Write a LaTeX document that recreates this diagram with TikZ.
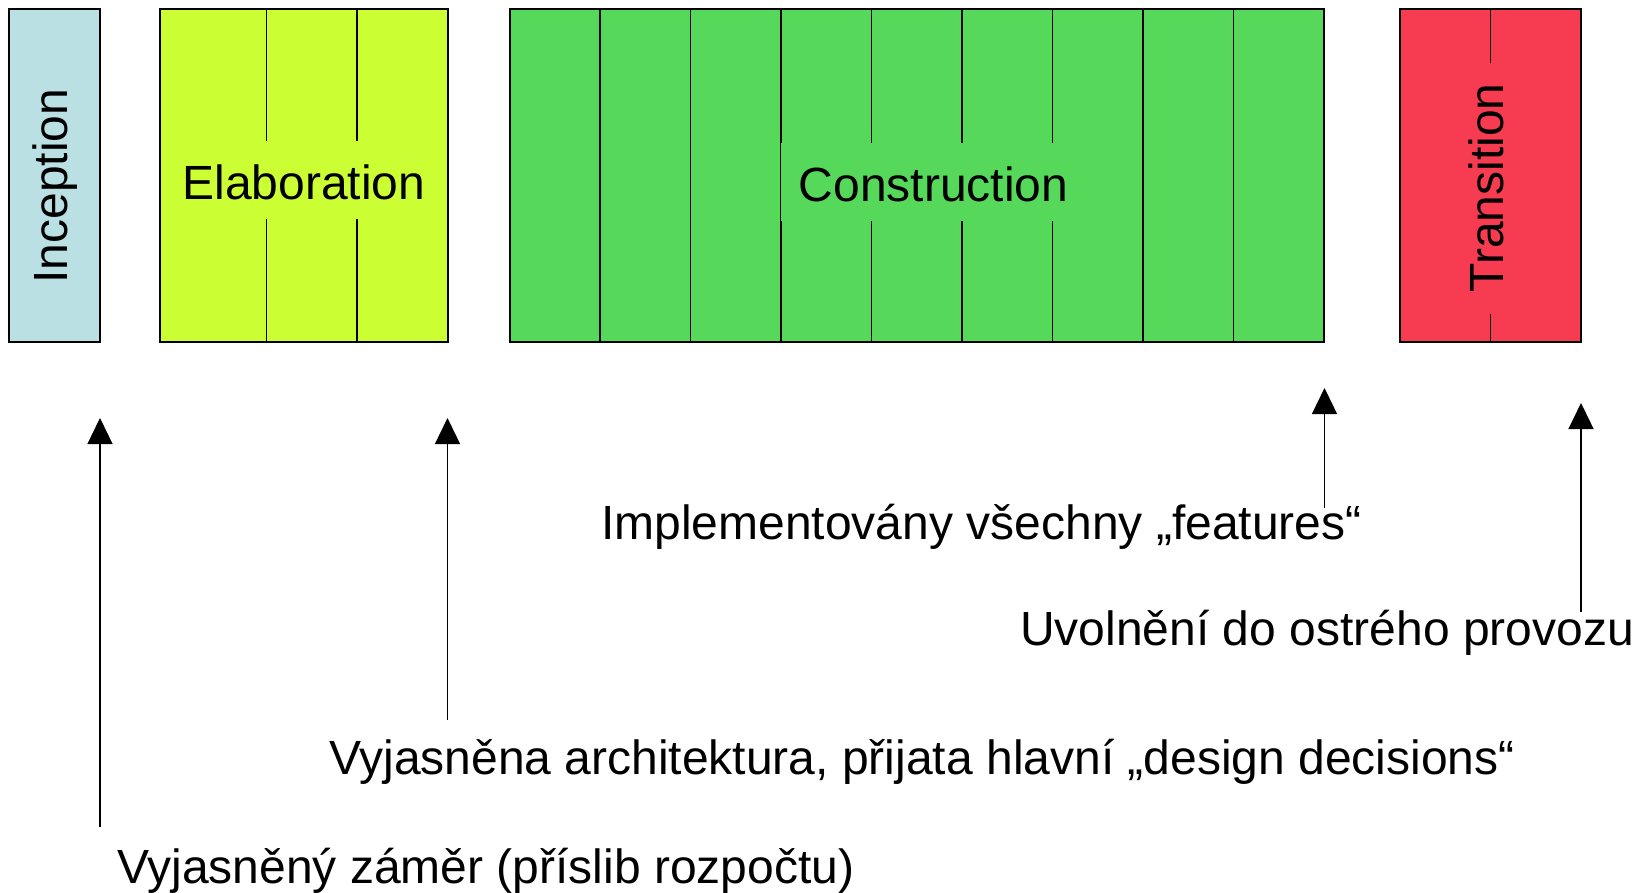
\documentclass[tikz,border=0pt]{standalone}
\usepackage{fontspec}
\setmainfont{Liberation Sans}
\usetikzlibrary{arrows.meta}
\definecolor{inceptionblue}{HTML}{BBE0E3}
\definecolor{elabyellow}{HTML}{CCFF33}
\definecolor{constgreen}{HTML}{56D95A}
\definecolor{transred}{HTML}{F73B50}

\begin{document}
\begin{tikzpicture}[x=1pt,y=1pt,
  phase/.style={draw=black, line width=2pt, rectangle, inner sep=0pt, outer sep=0pt, minimum height=333pt},
  iterline/.style={draw=black, line width=1.5pt},
  big/.style={font=\fontsize{48}{58}\selectfont, inner sep=0pt},
  milestone/.style={draw=black, line width=1.3pt, -{Triangle[length=26pt,width=25pt]}},
]
\useasboundingbox (0,0) rectangle (1644,-892);

% phase blocks
\node[phase, fill=inceptionblue, minimum width=91.5pt] (inc) at (54.25,-175.5) {};
\node[phase, fill=elabyellow, minimum width=288pt] (elab) at (304,-175.5) {};
\node[phase, fill=constgreen, minimum width=814.8pt] (cons) at (917,-175.5) {};
\node[phase, fill=transred, minimum width=181.3pt] (trans) at (1490.35,-175.5) {};

% iteration dividers
\foreach \x in {266.7,357.2}
  \draw[iterline] (\x,-9) -- (\x,-342);
\foreach \x in {600.1,690.6,781.1,871.6,962.1,1052.7,1143.2,1233.7}
  \draw[iterline] (\x,-9) -- (\x,-342);
\draw[iterline] (1490.5,-9) -- (1490.5,-342);

% phase names
\node[big, rotate=90, anchor=base] (inctxt) at (67,-186) {Inception};
\node[big, fill=elabyellow, text height=58pt, text depth=20pt, minimum width=270pt, anchor=base] (elabtxt) at (304,-199) {Elaboration};
\node[big, fill=constgreen, text height=59pt, text depth=19pt, minimum width=306pt, anchor=base] (constxt) at (933.5,-201.5) {Construction};
\node[big, fill=transred, rotate=90, text height=40pt, text depth=12pt, minimum width=251pt, anchor=base] (transtxt) at (1503,-188) {Transition};

% milestone labels
\node[big, anchor=base west] (m1) at (117,-883) {Vyjasněný záměr (příslib rozpočtu)};
\node[big, anchor=base west] (m2) at (329,-774) {Vyjasněna architektura, přijata hlavní „design decisions“};
\node[big, anchor=base west] (m3) at (601,-539) {Implementovány všechny „features“};
\node[big, anchor=base west] (m4) at (1020,-645) {Uvolnění do ostrého provozu};

% milestone arrows
\coordinate (s1) at (100,-827);    \coordinate (t1) at (100,-418);
\coordinate (s2) at (447.5,-720);  \coordinate (t2) at (447.5,-418);
\coordinate (s3) at (1324.5,-508); \coordinate (t3) at (1324.5,-388);
\coordinate (s4) at (1581,-612);   \coordinate (t4) at (1581,-403);
\draw[milestone] (s1) -- (t1);
\draw[milestone] (s2) -- (t2);
\draw[milestone] (s3) -- (t3);
\draw[milestone] (s4) -- (t4);
\end{tikzpicture}
\end{document}
